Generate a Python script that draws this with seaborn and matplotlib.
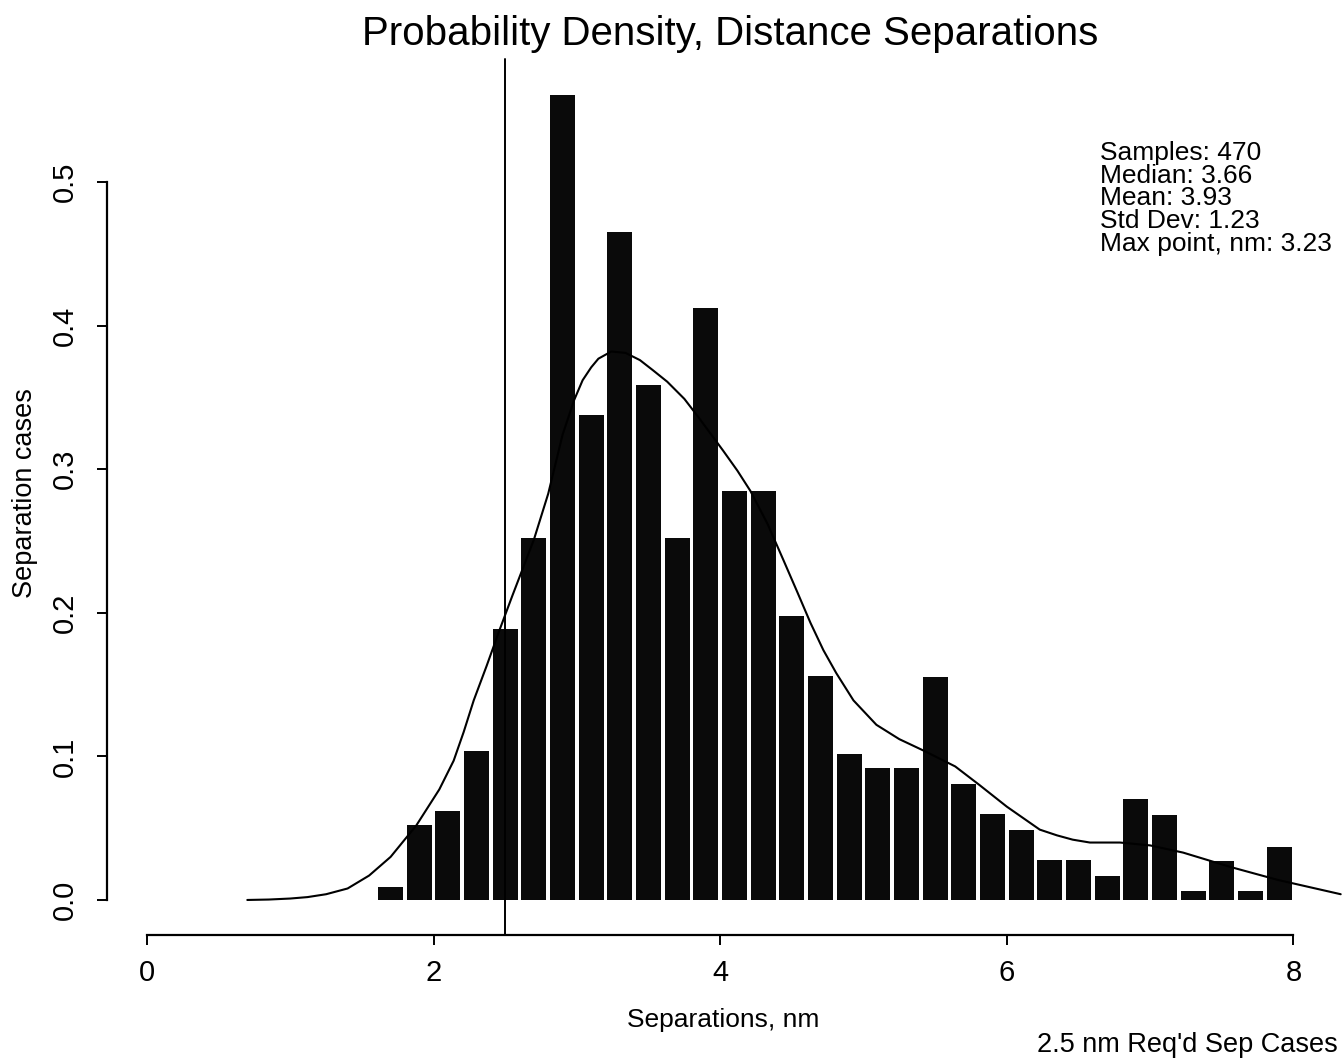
import matplotlib
matplotlib.use("Agg")
import matplotlib.pyplot as plt
import numpy as np
import seaborn as sns

# Histogram bins (centres, nm) and their heights
bin_centers = [1.7, 1.9, 2.1, 2.3, 2.5, 2.7, 2.9, 3.1, 3.3, 3.5, 3.7, 3.9, 4.1, 4.3,
               4.5, 4.7, 4.9, 5.1, 5.3, 5.5, 5.7, 5.9, 6.1, 6.3, 6.5, 6.7, 6.9, 7.1,
               7.3, 7.5, 7.7, 7.9]
bin_heights = [0.009, 0.052, 0.062, 0.104, 0.189, 0.252, 0.561, 0.338, 0.465, 0.359,
               0.252, 0.412, 0.285, 0.285, 0.198, 0.156, 0.102, 0.092, 0.092, 0.155,
               0.081, 0.060, 0.049, 0.028, 0.028, 0.017, 0.070, 0.059, 0.006, 0.027,
               0.006, 0.037]
bin_width = 0.2

# Smoothed density curve
curve_x = [0.70, 0.85, 1.00, 1.12, 1.25, 1.40, 1.55, 1.70, 1.88, 2.04, 2.14, 2.21,
           2.28, 2.37, 2.46, 2.55, 2.70, 2.80, 2.90, 2.98, 3.04, 3.10, 3.15, 3.24,
           3.34, 3.44, 3.53, 3.63, 3.75, 3.85, 4.02, 4.12, 4.21, 4.33, 4.44, 4.54,
           4.63, 4.72, 4.81, 4.93, 5.09, 5.25, 5.42, 5.64, 5.81, 6.00, 6.23, 6.35,
           6.46, 6.58, 6.79, 7.00, 7.23, 7.56, 7.89, 8.33]
curve_y = [0.000, 0.0003, 0.001, 0.002, 0.004, 0.008, 0.017, 0.030, 0.052, 0.077,
           0.097, 0.117, 0.139, 0.163, 0.188, 0.212, 0.251, 0.283, 0.324, 0.348,
           0.362, 0.371, 0.377, 0.382, 0.381, 0.376, 0.369, 0.361, 0.349, 0.336,
           0.313, 0.299, 0.285, 0.262, 0.237, 0.214, 0.193, 0.174, 0.158, 0.139,
           0.122, 0.112, 0.104, 0.093, 0.080, 0.065, 0.049, 0.045, 0.042, 0.040,
           0.040, 0.038, 0.033, 0.023, 0.014, 0.004]

req_sep = 2.5
stats_lines = ["Samples: 470", "Median: 3.66", "Mean: 3.93", "Std Dev: 1.23",
               "Max point, nm: 3.23"]
x_ticks = [0, 2, 4, 6, 8]
y_ticks = [0.0, 0.1, 0.2, 0.3, 0.4, 0.5]

sns.set_style("white")
plt.rcParams["font.family"] = ["Liberation Sans", "DejaVu Sans"]
plt.rcParams["text.color"] = "black"
plt.rcParams["axes.labelcolor"] = "black"

W, H = 1344, 1061
fig = plt.figure(figsize=(W / 100, H / 100), dpi=100)
# axes box in pixels: left 107, right 1344, top 50, bottom 935
ax = fig.add_axes([107 / W, (H - 935) / H, (W - 107) / W, (935 - 50) / H])

edges = [c - bin_width / 2 for c in bin_centers] + [bin_centers[-1] + bin_width / 2]
sns.histplot(x=bin_centers, weights=bin_heights, bins=edges, shrink=0.87,
             color="#0a0a0a", alpha=1, edgecolor="none", linewidth=0, ax=ax)
sns.lineplot(x=curve_x, y=curve_y, color="black", linewidth=1.5, ax=ax)
ax.axvline(req_sep, ymin=0, ymax=0.99, color="black", linewidth=1.4)

ax.set_xlim(-0.279, 8.353)
ax.set_ylim(-0.0244, 0.592)

for side in ["top", "right"]:
    ax.spines[side].set_visible(False)
ax.spines["left"].set_bounds(0, 0.5)
ax.spines["bottom"].set_bounds(0, 8)
for side in ["left", "bottom"]:
    ax.spines[side].set_color("black")
    ax.spines[side].set_linewidth(1.6)

ax.set_xticks(x_ticks)
ax.set_xticklabels([str(t) for t in x_ticks])
ax.set_yticks(y_ticks)
ax.set_yticklabels([f"{t:.1f}" for t in y_ticks], rotation=90, va="center")
ax.tick_params(axis="both", direction="out", length=7, width=1.4, colors="black",
               labelsize=21, bottom=True, left=True)
ax.tick_params(axis="x", pad=10)
ax.tick_params(axis="y", pad=13)

ax.set_xlabel("Separations, nm", fontsize=19, va="center")
ax.xaxis.set_label_coords(0.498, (935 - 1020) / 885)
ax.set_ylabel("Separation cases", fontsize=19.5, va="center")
ax.yaxis.set_label_coords((25 - 107) / 1237, 0.499)

fig.text(730 / W, (H - 34) / H, "Probability Density, Distance Separations",
         ha="center", va="center", fontsize=29)
fig.text(1100 / W, (H - 141) / H, "\n".join(stats_lines), ha="left", va="top",
         fontsize=19, linespacing=0.93)
fig.text(1338 / W, (H - 1045) / H, "2.5 nm Req'd Sep Cases", ha="right",
         va="center", fontsize=19.5)

fig.savefig("out.png", dpi=100)
